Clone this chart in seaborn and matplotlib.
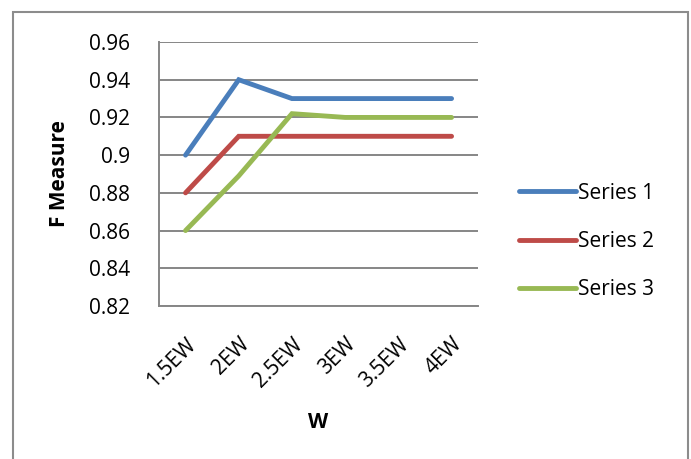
import pandas as pd
import seaborn as sns
import matplotlib.pyplot as plt
from matplotlib.patches import Rectangle

categorias = ["1.5EW", "2EW", "2.5EW", "3EW", "3.5EW", "4EW"]
serie1 = [0.90, 0.94, 0.93, 0.93, 0.93, 0.93]
serie2 = [0.88, 0.91, 0.91, 0.91, 0.91, 0.91]
serie3 = [0.86, 0.889, 0.922, 0.92, 0.92, 0.92]
nomes = ["Series 1", "Series 2", "Series 3"]
cores = ["#4A7EBB", "#BE4B48", "#98B954"]

sns.set_style("white")
plt.rcParams['font.family'] = ['Open Sans', 'DejaVu Sans']
plt.rcParams['text.color'] = 'black'
plt.rcParams['axes.labelcolor'] = 'black'
plt.rcParams['xtick.labelcolor'] = 'black'
plt.rcParams['ytick.labelcolor'] = 'black'

df = pd.DataFrame({
    "pos": list(range(len(categorias))) * 3,
    "valor": serie1 + serie2 + serie3,
    "serie": [n for n in nomes for _ in categorias],
})

fig = plt.figure(figsize=(6.91, 4.59), dpi=100)
ax = fig.add_axes([0.230, 0.3333, 0.462, 0.5752])

sns.lineplot(data=df, x="pos", y="valor", hue="serie", palette=cores,
             linewidth=3.5, ax=ax, legend=True)
for l in ax.lines:
    l.set_solid_capstyle("round")
    l.set_solid_joinstyle("miter")

cinza = "#868686"
fs = 15
ax.set_ylim(0.82, 0.96)
ax.set_yticks([0.82, 0.84, 0.86, 0.88, 0.9, 0.92, 0.94, 0.96])
ax.set_yticklabels(["0.82", "0.84", "0.86", "0.88", "0.9", "0.92", "0.94", "0.96"])
ax.set_xlim(-0.5, len(categorias) - 0.5)
ax.set_xticks(range(len(categorias)))
ax.set_xticklabels(categorias, rotation=45, ha="right", va="top",
                   rotation_mode="anchor")
ax.set_xticks([i - 0.5 for i in range(len(categorias) + 1)], minor=True)
ax.tick_params(axis="x", which="major", length=0, labelsize=fs, pad=20)
ax.tick_params(axis="x", which="minor", length=5, width=1.3, color=cinza,
               direction="out")
ax.tick_params(axis="y", length=6, width=1.3, color=cinza, direction="out",
               labelsize=fs, pad=15)
ax.grid(axis="y", color=cinza, linewidth=1.4)
ax.set_axisbelow(True)
for s in ["top", "right"]:
    ax.spines[s].set_visible(False)
for s in ["left", "bottom"]:
    ax.spines[s].set_color(cinza)
    ax.spines[s].set_linewidth(1.4)

ax.set_xlabel("W", fontsize=fs, fontweight="bold")
ax.xaxis.set_label_coords(0.498, -0.40)
ax.set_ylabel("F Measure", fontsize=fs, fontweight="bold")
ax.yaxis.set_label_coords(-0.28, 0.5)

leg = ax.legend(loc="center left", bbox_to_anchor=(1.07, 0.245), frameon=False,
                fontsize=fs, handlelength=2.7, handletextpad=0.1,
                labelspacing=1.3)
for h in leg.get_lines():
    h.set_linewidth(3.5)
    h.set_solid_capstyle("round")

fig.patches.append(Rectangle((13 / 691, -0.1), (688 - 13) / 691, 1.1 - 12.5 / 459,
                             transform=fig.transFigure, fill=False,
                             edgecolor="#8C8C8C", linewidth=1.5))

fig.savefig("out.png", dpi=100)
